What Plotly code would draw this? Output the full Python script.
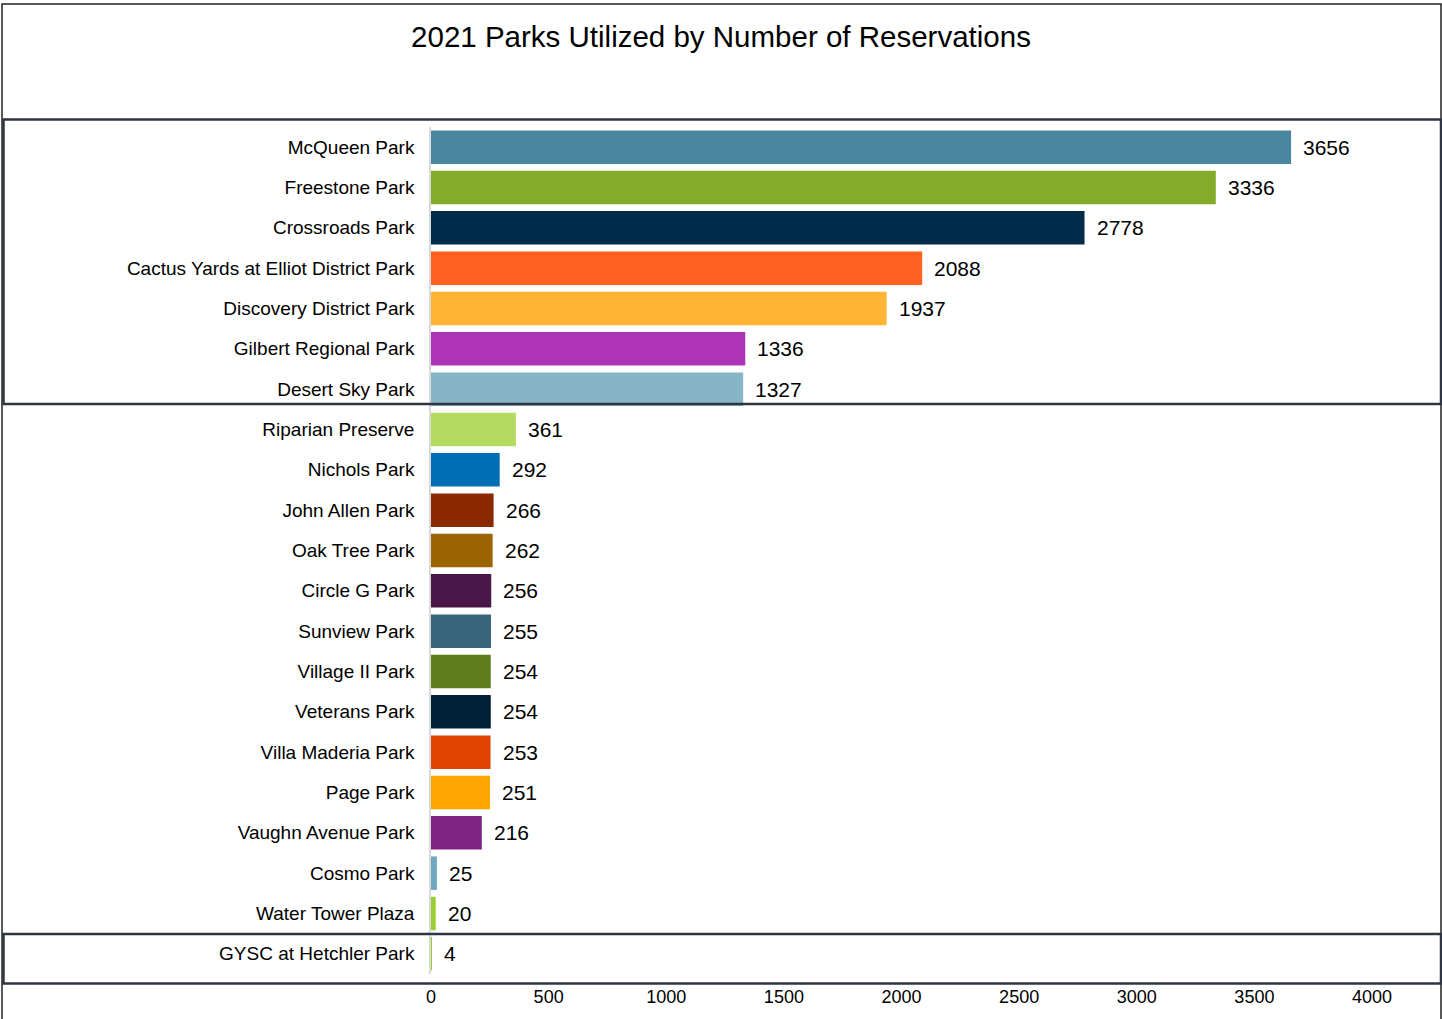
import plotly.graph_objects as go

parks = ["McQueen Park", "Freestone Park", "Crossroads Park", "Cactus Yards at Elliot District Park",
         "Discovery District Park", "Gilbert Regional Park", "Desert Sky Park", "Riparian Preserve",
         "Nichols Park", "John Allen Park", "Oak Tree Park", "Circle G Park", "Sunview Park",
         "Village II Park", "Veterans Park", "Villa Maderia Park", "Page Park", "Vaughn Avenue Park",
         "Cosmo Park", "Water Tower Plaza", "GYSC at Hetchler Park"]
reservations = [3656, 3336, 2778, 2088, 1937, 1336, 1327, 361, 292, 266, 262, 256, 255, 254, 254,
                253, 251, 216, 25, 20, 4]
colors = ["#4A86A0", "#84AC2A", "#002B49", "#FF5F1F", "#FFB533", "#AE35B8", "#88B5C6", "#B4DA5F",
          "#006EB5", "#8A2800", "#9A6400", "#4A1848", "#36657A", "#5F7F1E", "#002035", "#E04400",
          "#FFA500", "#7E2582", "#6FA8C0", "#9ACD32", "#9ACD32"]
x_ticks = [0, 500, 1000, 1500, 2000, 2500, 3000, 3500, 4000]

W, H = 1442, 1019
L, R, T, B = 431, 1372, 127, 974
FONT = "Liberation Sans, Arial, sans-serif"


def px(xp):
    return (xp - L) / (R - L)


def py(yp):
    return (B - yp) / (B - T)


fig = go.Figure(go.Bar(
    x=reservations, y=parks, orientation="h",
    marker=dict(color=colors, line=dict(width=0)),
    hoverinfo="x+y",
))

for p, v in zip(parks, reservations):
    fig.add_annotation(x=v, y=p, text=str(v), showarrow=False, xanchor="left", xshift=10,
                       font=dict(size=21, color="#000000", family=FONT))

shapes = [
    dict(type="rect", xref="paper", yref="paper", x0=px(2), x1=px(1441), y0=py(4), y1=py(1040),
         line=dict(color="#222222", width=1.5), fillcolor="rgba(0,0,0,0)"),
    dict(type="rect", xref="paper", yref="paper", x0=px(3.5), x1=px(1441), y0=py(119.5), y1=py(404),
         line=dict(color="#2F3542", width=2.5), fillcolor="rgba(0,0,0,0)"),
    dict(type="rect", xref="paper", yref="paper", x0=px(3.5), x1=px(1441), y0=py(934), y1=py(983.5),
         line=dict(color="#2F3542", width=2.5), fillcolor="rgba(0,0,0,0)"),
]

fig.update_layout(
    width=W, height=H,
    margin=dict(l=L, r=W - R, t=T, b=H - B, autoexpand=False),
    paper_bgcolor="white", plot_bgcolor="white",
    bargap=0.17,
    showlegend=False,
    font=dict(family=FONT, color="#000000"),
    title=dict(text="2021 Parks Utilized by Number of Reservations", x=0.5, xanchor="center",
               y=(H - 37) / H, yanchor="middle", yref="container",
               font=dict(size=29.5, family=FONT, color="#000000")),
    shapes=shapes,
    xaxis=dict(range=[0, 4000], tickvals=x_ticks, ticktext=[str(t) for t in x_ticks],
               showgrid=False, zeroline=False, showline=False,
               ticks="outside", ticklen=6, tickcolor="rgba(0,0,0,0)",
               tickfont=dict(size=18, family=FONT, color="#000000")),
    yaxis=dict(categoryorder="array", categoryarray=parks, autorange="reversed",
               showgrid=False, zeroline=False, showline=True, linecolor="#D9D9D9", linewidth=1.5,
               ticks="outside", ticklen=11, tickcolor="rgba(0,0,0,0)",
               tickfont=dict(size=19, family=FONT, color="#000000")),
)

fig.write_html("out.html", config={"displayModeBar": False},
               post_script="document.body.style.margin='0';document.body.style.overflow='hidden';")
